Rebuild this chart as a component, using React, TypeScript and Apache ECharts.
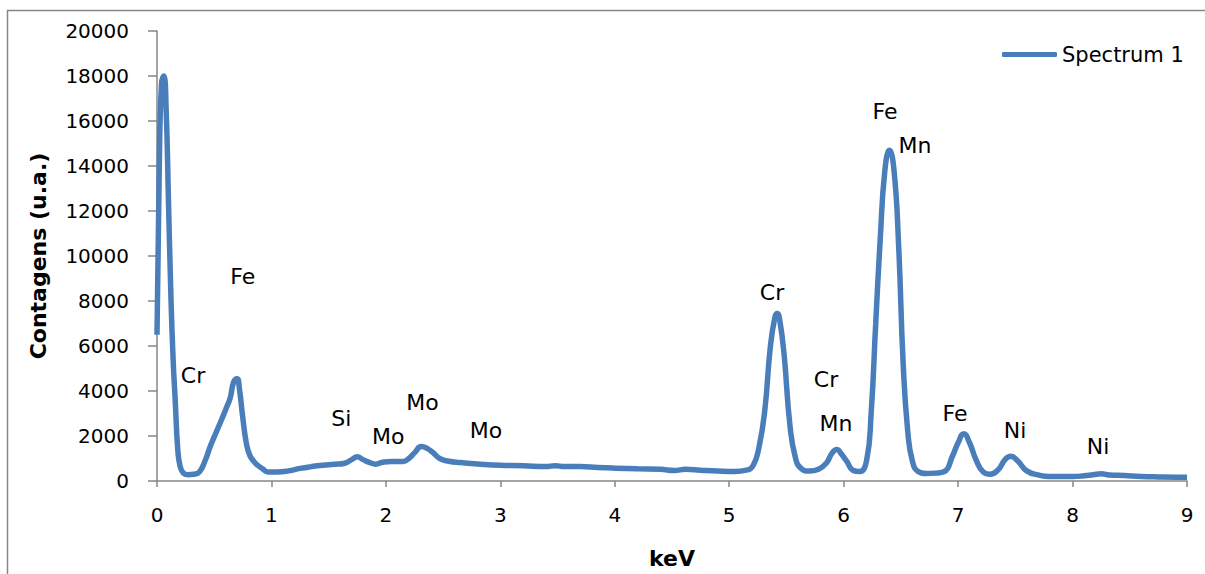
import React, { useEffect, useRef } from "react";
import * as echarts from "echarts";

const keV = [
  0.0, 0.02, 0.04, 0.06, 0.08, 0.1, 0.12, 0.14, 0.16, 0.18, 0.2, 0.23, 0.27, 0.32, 0.37, 0.42, 0.47, 0.52, 0.57, 0.61,
  0.64, 0.67, 0.7, 0.72, 0.75, 0.78, 0.81, 0.85, 0.88, 0.92, 0.97, 1.05, 1.15, 1.25, 1.35, 1.45, 1.55, 1.64, 1.7, 1.75,
  1.8, 1.86, 1.91, 1.97, 2.05, 2.15, 2.2, 2.25, 2.31, 2.36, 2.41, 2.47, 2.55, 2.65, 2.8, 3.0, 3.2, 3.4, 3.48, 3.56,
  3.7, 3.85, 4.0, 4.2, 4.4, 4.52, 4.62, 4.75, 4.9, 5.05, 5.15, 5.21, 5.26, 5.31, 5.36, 5.4, 5.42, 5.44, 5.48, 5.53,
  5.58, 5.63, 5.7, 5.78, 5.85, 5.9, 5.94, 5.98, 6.03, 6.08, 6.14, 6.2, 6.24, 6.28, 6.32, 6.36, 6.4, 6.44, 6.48, 6.52,
  6.56, 6.6, 6.65, 6.72, 6.8, 6.88, 6.95, 7.0, 7.05, 7.1, 7.16, 7.22, 7.28, 7.35, 7.41, 7.46, 7.52, 7.6, 7.7, 7.8,
  7.9, 8.0, 8.1, 8.18, 8.25, 8.32, 8.45, 8.6, 8.75, 8.9, 9.0,
];

const counts = [
  6500, 14000, 17700, 18000, 16500, 12500, 8500, 5500, 3500, 1500, 700, 350, 280, 300, 400, 900, 1600, 2200, 2800, 3300,
  3700, 4400, 4550, 4100, 2800, 1700, 1150, 850, 700, 550, 400, 400, 450, 560, 640, 700, 740, 790, 950, 1080,
  950, 820, 750, 830, 870, 870, 1000, 1250, 1530, 1450, 1270, 1000, 880, 820, 760, 700, 680, 640, 680, 640,
  640, 600, 570, 540, 520, 470, 520, 480, 440, 420, 480, 700, 1500, 3100, 6000, 7300, 7450, 7200, 5600, 2500,
  1000, 550, 440, 520, 800, 1250, 1400, 1200, 850, 480, 420, 900, 3000, 7000, 10800, 13800, 14700, 13800, 10500, 5200,
  2200, 900, 420, 330, 350, 420, 1100, 1700, 2100, 1700, 900, 400, 300, 500, 950, 1100, 900, 450, 270, 200,
  200, 200, 230, 280, 320, 270, 240, 200, 180, 170, 170,
];

const peakNames = ["Fe", "Cr", "Si", "Mo", "Mo", "Mo", "Cr", "Cr", "Mn", "Fe", "Mn", "Fe", "Ni", "Ni"];
const peakX = [0.75, 0.315, 1.61, 2.02, 2.32, 2.875, 5.374, 5.846, 5.933, 6.361, 6.623, 6.973, 7.497, 8.223];
const peakY = [9100, 4680, 2760, 1970, 3500, 2230, 8360, 4510, 2540, 16410, 14920, 2980, 2230, 1530];

const seriesName = "Spectrum 1";
const xTitle = "keV";
const yTitle = "Contagens (u.a.)";

const FONT = "DejaVu Sans";

export default function App() {
  const ref = useRef<HTMLDivElement>(null);
  useEffect(() => {
    if (!ref.current) return;
    const chart = echarts.init(ref.current, undefined, { renderer: "svg" });
    const data = keV.map((x, i) => [x, counts[i]]);
    const marks = peakNames.map((n, i) => ({ name: n, coord: [peakX[i], peakY[i]] }));
    chart.setOption({
      animation: false,
      backgroundColor: "#ffffff",
      textStyle: { fontFamily: FONT },
      grid: { left: 157, right: 18, top: 31, bottom: 86, containLabel: false },
      legend: {
        data: [seriesName],
        left: 1002,
        top: 44,
        padding: 0,
        itemWidth: 55,
        itemHeight: 5,
        itemGap: 3,
        icon: "roundRect",
        textStyle: { fontFamily: FONT, fontSize: 21, color: "#000" },
      },
      xAxis: {
        type: "value",
        min: 0,
        max: 9,
        interval: 1,
        name: xTitle,
        nameLocation: "middle",
        nameGap: 66,
        nameTextStyle: { fontFamily: FONT, fontSize: 22, fontWeight: "bold", color: "#000" },
        axisLine: { show: true, lineStyle: { color: "#868686", width: 1.5 } },
        axisTick: { show: true, length: 6, lineStyle: { color: "#868686", width: 1.5 } },
        axisLabel: { margin: 24, fontSize: 20, color: "#000", fontFamily: FONT, formatter: (v: number) => String(v) },
        splitLine: { show: false },
      },
      yAxis: {
        type: "value",
        min: 0,
        max: 20000,
        interval: 2000,
        name: yTitle,
        nameLocation: "middle",
        nameGap: 108,
        nameRotate: 90,
        nameTextStyle: { fontFamily: FONT, fontSize: 22, fontWeight: "bold", color: "#000" },
        axisLine: { show: true, lineStyle: { color: "#868686", width: 1.5 } },
        axisTick: { show: true, length: 9, lineStyle: { color: "#868686", width: 1.5 } },
        axisLabel: { margin: 28, fontSize: 20, color: "#000", fontFamily: FONT, formatter: (v: number) => String(v) },
        splitLine: { show: false },
      },
      graphic: [
        {
          type: "rect",
          shape: { x: 7.5, y: 10.5, width: 1400, height: 800 },
          style: { fill: "none", stroke: "#868686", lineWidth: 1.5 },
          silent: true,
          z: -10,
        },
      ],
      series: [
        {
          name: seriesName,
          type: "line",
          data,
          smooth: 0.5,
          showSymbol: false,
          symbol: "none",
          lineStyle: { color: "#4a7ebb", width: 5.5 },
          itemStyle: { color: "#4a7ebb" },
          markPoint: {
            symbol: "circle",
            symbolSize: 0,
            silent: true,
            label: {
              show: true,
              position: "inside",
              formatter: (p: any) => p.name,
              fontFamily: FONT,
              fontSize: 22,
              color: "#000",
            },
            data: marks,
          },
        },
      ],
    });
    return () => chart.dispose();
  }, []);
  return <div ref={ref} style={{ position: "fixed", left: 0, top: 0, width: 1205, height: 574 }} />;
}
